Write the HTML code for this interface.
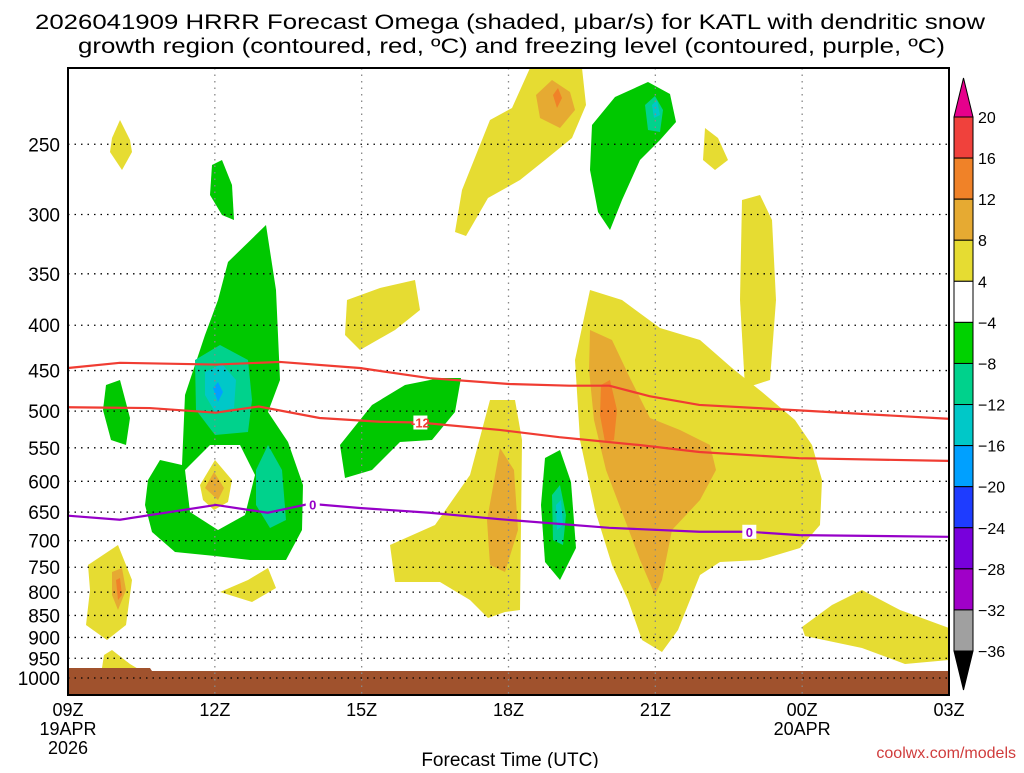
<!DOCTYPE html>
<html><head><meta charset="utf-8"><style>
body{margin:0;background:#fff;width:1024px;height:768px;overflow:hidden}
svg{font-family:"Liberation Sans",sans-serif}
</style></head><body>
<svg id="chart" width="1024" height="768" viewBox="0 0 1024 768">
<text x="35" y="29" font-size="21" textLength="950" lengthAdjust="spacingAndGlyphs" fill="#000">2026041909 HRRR Forecast Omega (shaded, μbar/s) for KATL with dendritic snow</text>
<text x="78" y="53" font-size="21" textLength="867" lengthAdjust="spacingAndGlyphs" fill="#000">growth region (contoured, red, ºC) and freezing level (contoured, purple, ºC)</text>
<g id="shading">
 <g fill="#e6dc32">
 <path d="M120,120 L130,140 L132,152 L122,170 L110,152 L112,138Z"/>
 <path d="M455,232 L462,190 L478,150 L490,120 L512,108 L530,68 L582,68 L586,105 L572,138 L545,160 L520,180 L488,198 L466,236Z"/>
 <path d="M705,128 L718,138 L728,160 L715,170 L703,160Z"/>
 <path d="M347,300 L380,288 L415,280 L420,310 L395,330 L360,350 L345,335Z"/>
 <path d="M742,200 L760,195 L772,220 L776,300 L770,380 L745,388 L740,300Z"/>
 <path d="M590,290 L622,300 L660,328 L700,340 L732,368 L762,392 L795,420 L812,445 L822,480 L820,525 L800,548 L760,560 L720,562 L700,575 L690,600 L678,630 L662,652 L642,640 L628,600 L612,565 L595,510 L580,440 L575,360Z"/>
 <path d="M490,400 L515,400 L522,440 L520,610 L505,612 L488,618 L470,600 L440,582 L395,582 L390,545 L435,525 L470,475Z"/>
 <path d="M88,565 L118,545 L132,580 L126,625 L107,640 L86,625 L90,590Z"/>
 <path d="M102,668 L104,655 L112,650 L130,664 L140,670Z"/>
 <path d="M220,592 L248,580 L268,568 L276,588 L252,602Z"/>
 <path d="M802,627 L832,605 L862,590 L900,610 L949,628 L949,660 L905,664 L862,648 L805,636Z"/>
 </g>
 <g fill="#00c800">
 <path d="M592,125 L615,97 L648,82 L670,94 L676,122 L660,140 L640,160 L622,200 L610,230 L598,212 L590,170Z"/>
 <path d="M212,165 L222,160 L232,185 L234,220 L222,215 L210,195Z"/>
 <path d="M148,480 L160,460 L182,465 L185,395 L205,335 L218,300 L228,262 L266,225 L276,290 L280,380 L268,412 L288,442 L303,485 L302,530 L286,560 L250,560 L215,556 L175,552 L152,532 L145,505Z"/>
 <path d="M106,385 L120,380 L130,418 L126,445 L111,440 L103,410Z"/>
 <path d="M340,445 L372,405 L405,385 L440,378 L461,378 L455,412 L432,440 L400,442 L372,470 L345,478Z"/>
 <path d="M545,458 L560,450 L571,482 L576,548 L560,580 L545,562 L541,505Z"/>
 </g>
 <path fill="#fff" d="M185,470 L210,445 L240,445 L255,475 L245,515 L218,530 L190,512Z"/>
 <path fill="#e6dc32" d="M200,485 L215,460 L232,480 L228,502 L214,510 L203,500Z"/>
 <g fill="#00d28c">
 <path d="M195,360 L220,345 L248,360 L252,400 L248,432 L215,435 L196,410Z"/>
 <path d="M256,470 L268,445 L282,470 L286,520 L270,528 L256,505Z"/>
 <path d="M552,495 L560,485 L566,515 L563,545 L553,540Z"/>
 <path d="M645,105 L655,96 L663,110 L660,132 L648,130Z"/>
 </g>
 <g fill="#00c8c8">
 <path d="M205,372 L222,364 L236,380 L234,408 L215,412 L205,395Z"/>
 <path d="M556,505 L561,500 L563,525 L557,530Z"/>
 <path d="M652,105 L657,100 L660,115 L654,118Z"/>
 </g>
 <path fill="#00a0ff" d="M213,388 L218,382 L223,392 L218,402Z"/>
 <g fill="#e6aa32">
 <path d="M536,95 L552,80 L570,92 L575,110 L560,128 L540,118Z"/>
 <path d="M590,330 L612,340 L630,378 L650,418 L680,430 L710,445 L716,470 L700,500 L672,530 L662,580 L655,595 L640,560 L625,520 L606,470 L594,420 L589,370Z"/>
 <path d="M500,448 L514,470 L518,530 L505,572 L490,565 L487,520Z"/>
 <path d="M112,572 L122,568 L126,590 L118,610 L112,595Z"/>
 <path d="M205,488 L214,472 L224,488 L218,500Z"/>
 </g>
 <g fill="#f08228">
 <path d="M601,385 L610,380 L617,410 L614,440 L605,442 L600,415Z"/>
 <path d="M553,95 L558,88 L562,98 L557,108Z"/>
 <path d="M116,580 L120,578 L122,595 L118,600Z"/>
 </g>
 <path fill="#a0522d" d="M68,668 L150,668 L152,671 L949,671 L949,695 L68,695Z"/>
</g>
<g id="grid"></g>
<g id="lines"></g>
<rect x="68" y="68" width="881" height="627" fill="none" stroke="#000" stroke-width="2"/>
<g id="yaxis"></g>
<g id="xaxis"></g>
<text x="510" y="766" font-size="19" text-anchor="middle">Forecast Time (UTC)</text>
<text x="1016" y="758" font-size="16" text-anchor="end" fill="#d03c3c">coolwx.com/models</text>
<g id="cbar"></g>
</svg>
<script>
const pTicks=[250,300,350,400,450,500,550,600,650,700,750,800,850,900,950,1000];
const tTicks=[0,3,6,9,12,15,18];
const tLabels=["09Z","12Z","15Z","18Z","21Z","00Z","03Z"];
const tSub1=["19APR","","","","","20APR",""];
const tSub2=["2026","","","","","",""];
const redUpperH=[0,1.06,3.02,4.33,5.96,7.39,9.02,10.24,11.06,11.88,12.9,14.94,17.98];
const redUpperP=[447,441,443,440,447,459,466,468,468,481,492,499,510];
const redLowerH=[0,1.67,3.02,3.9,5.14,6.37,7.18,8.82,10.04,11.67,12.9,14.94,17.98];
const redLowerP=[495,496,502,494,509,514,515,525,535,546,556,565,569];
const purpleH=[0,1.06,3.02,4.08,4.94,5.96,7.39,8.82,11.06,12.9,13.92,14.94,17.98];
const purpleP=[656,663,638,651,636,643,651,662,677,684,684,690,693];
const cbLevels=[20,16,12,8,4,-4,-8,-12,-16,-20,-24,-28,-32,-36];
const cbColors=["#f0413c","#f08228","#e6aa32","#e6dc32","#ffffff","#00d200","#00d28c","#00c8c8","#00a0ff","#1e3cff","#7800dc","#a000c8","#a0a0a0"];
const NS="http://www.w3.org/2000/svg";
const X=h=>68+h*(881/18);
const Y=p=>678-385*Math.log(1000/p);
function mk(tag,attrs,parent){const e=document.createElementNS(NS,tag);for(const k in attrs)e.setAttribute(k,attrs[k]);parent.appendChild(e);return e;}
const grid=document.getElementById('grid'),yax=document.getElementById('yaxis'),xax=document.getElementById('xaxis');
pTicks.forEach(p=>{
 const l=mk('line',{x1:68,x2:949,y1:Y(p),y2:Y(p),stroke:'#000','stroke-width':1.3,'stroke-dasharray':'1.5,5'},grid);
 
 
 const t=mk('text',{x:60,y:Y(p)+7,'font-size':19,'text-anchor':'end'},yax);
 t.textContent=p;
 
 
});
tTicks.forEach((h,i)=>{
 if(i>0&&i<tTicks.length-1){const l=mk('line',{x1:X(h),x2:X(h),y1:68,y2:695,stroke:'#888','stroke-width':1.3,'stroke-dasharray':'1.5,5'},grid);
 
 }
 const t=mk('text',{x:X(h),y:716,'font-size':18,'text-anchor':'middle'},xax);t.textContent=tLabels[i];
 
 
 if(tSub1[i]){const s=mk('text',{x:X(h),y:735,'font-size':18,'text-anchor':'middle'},xax);s.textContent=tSub1[i];
 
 }
 if(tSub2[i]){const s=mk('text',{x:X(h),y:754,'font-size':18,'text-anchor':'middle'},xax);s.textContent=tSub2[i];
 
 }
});
const lines=document.getElementById('lines');
function poly(H,P,col,name){const pts=H.map((h,i)=>X(h)+','+Y(P[i])).join(' ');
 const e=mk('polyline',{points:pts,fill:'none',stroke:col,'stroke-width':2.2},lines);
 
 }
poly(redUpperH,redUpperP,'#f03c32','dgz-upper-contour');
poly(redLowerH,redLowerP,'#f03c32','dgz-lower-contour');
poly(purpleH,purpleP,'#9600c8','freezing-level-contour');
function lab(h,p,txt,col,name){const b=mk('rect',{x:X(h)-7,y:Y(p)-7,width:14,height:14,fill:'#fff'},lines);
 
 
 const t=mk('text',{x:X(h),y:Y(p)+5,'font-size':13,'font-weight':'bold','text-anchor':'middle',fill:col},lines);t.textContent=txt;
 
 }
lab(7.2,515,'-12','#f03c32','contour-label-12');
lab(5.0,637,'0','#9600c8','contour-label-0');
lab(13.92,684,'0','#9600c8','contour-label-0b');
const cb=document.getElementById('cbar');
const cbTop=117,cbStep=(651-117)/13;
cbColors.forEach((c,i)=>{const r=mk('rect',{x:954,y:cbTop+i*cbStep,width:19,height:cbStep,fill:c,stroke:'#000','stroke-width':1},cb);
 
 });
const up=mk('path',{d:`M954,${cbTop} L963.5,78 L973,${cbTop}Z`,fill:'#e6008c',stroke:'#000'},cb);


const dn=mk('path',{d:`M954,651 L963.5,690 L973,651Z`,fill:'#000',stroke:'#000'},cb);


cbLevels.forEach((v,i)=>{const t=mk('text',{x:978,y:cbTop+i*cbStep+6,'font-size':16},cb);t.textContent=v<0?'−'+(-v):v;
 
 });
</script>
</body></html>
